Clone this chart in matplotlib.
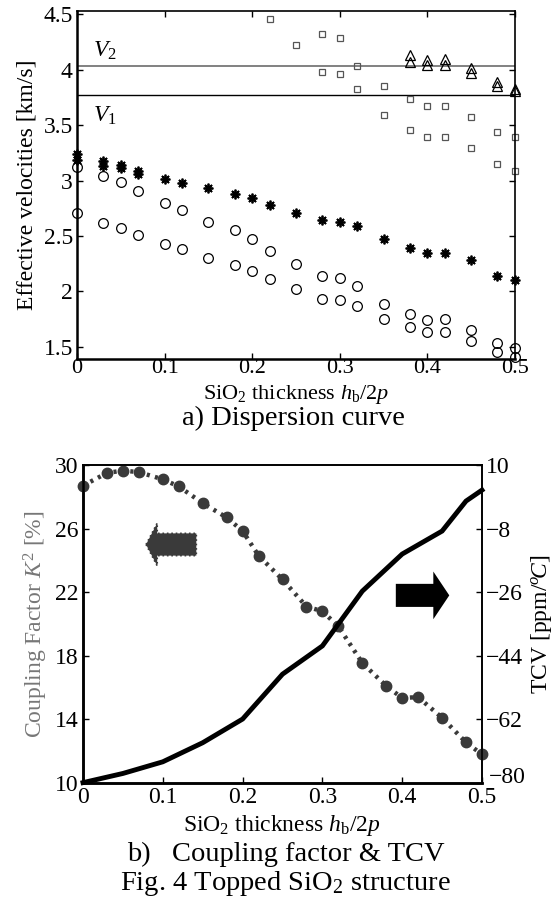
import matplotlib
matplotlib.use("Agg")
import matplotlib.pyplot as plt
import matplotlib.transforms as mtransforms
from matplotlib.patches import FancyArrow

plt.rcParams['font.family'] = ['Liberation Serif', 'DejaVu Serif']
plt.rcParams['mathtext.fontset'] = 'custom'
plt.rcParams['mathtext.rm'] = 'Liberation Serif'
plt.rcParams['mathtext.it'] = 'Liberation Serif:italic'
plt.rcParams['mathtext.bf'] = 'Liberation Serif:bold'

# ---------------- data: (a) dispersion curve ----------------
x_disp = [0, 0.03, 0.05, 0.07, 0.1, 0.12, 0.15, 0.18, 0.2, 0.22, 0.25,
          0.28, 0.3, 0.32, 0.35, 0.38, 0.4, 0.42, 0.45, 0.48, 0.5]
star_main = [3.24, 3.18, 3.14, 3.09, 3.01, 2.98, 2.93, 2.88, 2.84, 2.78, 2.71,
             2.64, 2.63, 2.59, 2.47, 2.39, 2.35, 2.35, 2.28, 2.14, 2.10]
x_star2 = [0, 0.03, 0.05, 0.07]
star_second = [3.19, 3.13, 3.11, 3.06]
circ_upper = [3.12, 3.04, 2.99, 2.91, 2.80, 2.73, 2.63, 2.55, 2.47, 2.36, 2.25,
              2.14, 2.12, 2.05, 1.89, 1.80, 1.74, 1.75, 1.65, 1.53, 1.49]
circ_lower = [2.71, 2.62, 2.57, 2.51, 2.43, 2.38, 2.30, 2.24, 2.18, 2.11, 2.02,
              1.93, 1.92, 1.87, 1.75, 1.68, 1.63, 1.63, 1.55, 1.45, 1.41]
x_sq_a = [0.22, 0.25, 0.28, 0.3, 0.32, 0.35, 0.38, 0.4, 0.42, 0.45, 0.48, 0.5]
sq_a = [4.46, 4.22, 4.32, 4.29, 4.03, 3.85, 3.74, 3.67, 3.67, 3.57, 3.44, 3.39]
x_sq_b = [0.28, 0.3, 0.32, 0.35, 0.38, 0.4, 0.42, 0.45, 0.48, 0.5]
sq_b = [3.98, 3.96, 3.83, 3.59, 3.46, 3.39, 3.39, 3.29, 3.15, 3.09]
x_tri = [0.38, 0.4, 0.42, 0.45, 0.48, 0.5]
tri_a = [4.13, 4.09, 4.10, 4.02, 3.89, 3.83]
tri_b = [4.07, 4.04, 4.04, 3.97, 3.85, 3.81]
V2 = 4.03
V1 = 3.77

# ---------------- data: (b) coupling factor & TCV ----------------
x_k2 = [0, 0.03, 0.05, 0.07, 0.1, 0.12, 0.15, 0.18, 0.2, 0.22, 0.25,
        0.28, 0.3, 0.32, 0.35, 0.38, 0.4, 0.42, 0.45, 0.48, 0.5]
k2 = [28.7, 29.5, 29.65, 29.55, 29.1, 28.65, 27.6, 26.7, 25.85, 24.3, 22.8,
      21.1, 20.8, 19.85, 17.55, 16.1, 15.35, 15.4, 14.1, 12.55, 11.8]
x_tcv = [0, 0.05, 0.1, 0.15, 0.2, 0.25, 0.3, 0.35, 0.4, 0.45, 0.48, 0.5]
tcv = [-79.9, -77.3, -74.0, -68.6, -61.9, -49.2, -41.2, -25.7, -15.2, -8.7, -0.2, 2.9]

xticks = [0, 0.1, 0.2, 0.3, 0.4, 0.5]
xticklabels = ['0', '0.1', '0.2', '0.3', '0.4', '0.5']
yticks_a = [1.5, 2, 2.5, 3, 3.5, 4, 4.5]
yticklabels_a = ['1.5', '2', '2.5', '3', '3.5', '4', '4.5']
yticks_k2 = [10, 14, 18, 22, 26, 30]
yticks_tcv = [-80, -62, -44, -26, -8, 10]

W, H = 553, 906
fig = plt.figure(figsize=(W / 100, H / 100), dpi=100)

FS = 17
CAP = 20.5
GRAY = '#777777'
DARK = '#3a3a3a'

# ---------------- (a) ----------------
ax = fig.add_axes([77 / W, 1 - 359 / H, 438 / W, 348 / H])
ax.set_xlim(0, 0.5)
ax.set_ylim(1.39, 4.53)
ax.axhline(V2, color=GRAY, lw=1.3)
ax.axhline(V1, color='black', lw=1.0)
ax.text(0.018, 4.17, r'$V_2$', fontsize=FS, ha='left', va='center')
ax.text(0.018, 3.58, r'$V_1$', fontsize=FS, ha='left', va='center')

star = (8, 2, 0)
ax.plot(x_disp, star_main, ls='none', marker=star, ms=7, mew=1.3, color='black', clip_on=False)
ax.plot(x_star2, star_second, ls='none', marker=star, ms=7, mew=1.3, color='black', clip_on=False)
ax.plot(x_disp, circ_upper, ls='none', marker='o', ms=7, mfc='none', mec='black', mew=0.9, clip_on=False)
ax.plot(x_disp, circ_lower, ls='none', marker='o', ms=7, mfc='none', mec='black', mew=0.9, clip_on=False)
ax.plot(x_sq_a, sq_a, ls='none', marker='s', ms=5, mfc='none', mec='#555555', mew=0.9, clip_on=False)
ax.plot(x_sq_b, sq_b, ls='none', marker='s', ms=5, mfc='none', mec='#555555', mew=0.9, clip_on=False)
ax.plot(x_tri, tri_a, ls='none', marker='^', ms=6.5, mfc='none', mec='black', mew=0.9, clip_on=False)
ax.plot(x_tri, tri_b, ls='none', marker='^', ms=6.5, mfc='none', mec='black', mew=0.9, clip_on=False)

ax.set_xticks(xticks)
ax.set_xticklabels(xticklabels)
ax.set_yticks(yticks_a)
ax.set_yticklabels(yticklabels_a)
ax.tick_params(direction='in', top=True, right=True, labelsize=FS, length=4, width=1, pad=3)
ax.tick_params(axis='x', pad=0, labelsize=16)
for s in ax.spines.values():
    s.set_linewidth(1.2)
ax.spines['left'].set_linewidth(1.8)
ax.spines['bottom'].set_linewidth(1.8)
ax.set_ylabel('Effective velocities [km/s]', fontsize=FS, labelpad=4)

fig.text(296 / W, 1 - 394 / H, r'SiO$_2$ thickness $h_\mathrm{b}/2p$', fontsize=16,
         ha='center', va='center')
fig.text(293 / W, 1 - 418 / H, 'a) Dispersion curve', fontsize=CAP, ha='center', va='center')

# ---------------- (b) ----------------
bx = fig.add_axes([83 / W, 1 - 783 / H, 399 / W, 318 / H])
bx.set_xlim(0, 0.5)
bx.set_ylim(10, 30)
bx.plot(x_k2, k2, color=DARK, lw=3.2, ls=(0, (0.7, 1.2)), marker='o', ms=7.5,
        mfc=DARK, mec=DARK, clip_on=False, zorder=3)
bx.set_xticks(xticks)
bx.set_xticklabels(xticklabels)
bx.set_yticks(yticks_k2)
bx.tick_params(direction='in', labelsize=FS, length=4, width=1, pad=3)
bx.tick_params(axis='x', pad=3)
bx.set_ylabel(r'Coupling Factor $K^2$ [%]', fontsize=FS, color=GRAY, labelpad=4)

tx = bx.twinx()
tx.set_ylim(-80, 10)
tx.plot(x_tcv, tcv, color='black', lw=3.5, solid_joinstyle='miter', clip_on=False, zorder=4)
tx.set_yticks(yticks_tcv)
tx.tick_params(direction='in', labelsize=FS, length=4, width=1, pad=3)
tx.set_ylabel(r'TCV [ppm/$^o\!C$]', fontsize=FS, labelpad=2)
for a in (bx, tx):
    for s in a.spines.values():
        s.set_linewidth(1.2)
    a.spines['left'].set_linewidth(1.8)
    a.spines['bottom'].set_linewidth(1.8)

# nudge the lowest right-hand label up a little so it clears the "0.5" label
shift = mtransforms.ScaledTranslation(2 / 72, 6 / 72, fig.dpi_scale_trans)
lowest = tx.get_yticklabels()[0]
lowest.set_transform(lowest.get_transform() + shift)

# arrows
left_arrow = FancyArrow(0.142, 25.0, -0.063, 0, width=1.4, head_width=2.7, head_length=0.014,
                        length_includes_head=True, facecolor=DARK, edgecolor=DARK,
                        linestyle=':', lw=1.2, zorder=2)
bx.add_patch(left_arrow)
right_arrow = FancyArrow(0.392, 21.8, 0.067, 0, width=1.45, head_width=3.0, head_length=0.02,
                         length_includes_head=True, facecolor='black', edgecolor='black',
                         lw=0, zorder=2)
bx.add_patch(right_arrow)

fig.text(282 / W, 1 - 825 / H, r'SiO$_2$ thickness $h_\mathrm{b}/2p$', fontsize=FS,
         ha='center', va='center')
fig.text(286 / W, 1 - 854 / H, 'b)   Coupling factor & TCV', fontsize=CAP, ha='center', va='center')
fig.text(285 / W, 1 - 883 / H, r'Fig. 4 Topped SiO$_2$ structure', fontsize=CAP,
         ha='center', va='center')

fig.savefig('out.png', dpi=100)
